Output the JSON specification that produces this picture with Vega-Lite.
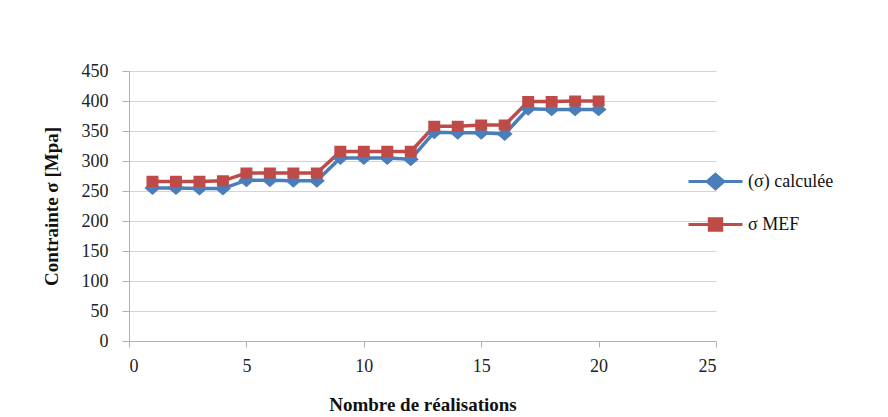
{
  "$schema": "https://vega.github.io/schema/vega-lite/v6.json",
  "width": 587,
  "height": 270,
  "autosize": {"type": "none"},
  "padding": {"left": 129, "top": 71, "right": 172, "bottom": 76},
  "background": "white",
  "config": {"view": {"stroke": null}, "font": "Liberation Serif"},
  "data": {"values": [
    {"x": 1, "series": "(σ) calculée", "value": 255},
    {"x": 2, "series": "(σ) calculée", "value": 255},
    {"x": 3, "series": "(σ) calculée", "value": 254},
    {"x": 4, "series": "(σ) calculée", "value": 254},
    {"x": 5, "series": "(σ) calculée", "value": 268},
    {"x": 6, "series": "(σ) calculée", "value": 268},
    {"x": 7, "series": "(σ) calculée", "value": 267},
    {"x": 8, "series": "(σ) calculée", "value": 267},
    {"x": 9, "series": "(σ) calculée", "value": 305},
    {"x": 10, "series": "(σ) calculée", "value": 305},
    {"x": 11, "series": "(σ) calculée", "value": 305},
    {"x": 12, "series": "(σ) calculée", "value": 303},
    {"x": 13, "series": "(σ) calculée", "value": 348},
    {"x": 14, "series": "(σ) calculée", "value": 347},
    {"x": 15, "series": "(σ) calculée", "value": 347},
    {"x": 16, "series": "(σ) calculée", "value": 345},
    {"x": 17, "series": "(σ) calculée", "value": 387},
    {"x": 18, "series": "(σ) calculée", "value": 386},
    {"x": 19, "series": "(σ) calculée", "value": 386},
    {"x": 20, "series": "(σ) calculée", "value": 386},
    {"x": 1, "series": "σ MEF", "value": 266},
    {"x": 2, "series": "σ MEF", "value": 266},
    {"x": 3, "series": "σ MEF", "value": 266},
    {"x": 4, "series": "σ MEF", "value": 267},
    {"x": 5, "series": "σ MEF", "value": 280},
    {"x": 6, "series": "σ MEF", "value": 280},
    {"x": 7, "series": "σ MEF", "value": 280},
    {"x": 8, "series": "σ MEF", "value": 280},
    {"x": 9, "series": "σ MEF", "value": 316},
    {"x": 10, "series": "σ MEF", "value": 316},
    {"x": 11, "series": "σ MEF", "value": 316},
    {"x": 12, "series": "σ MEF", "value": 316},
    {"x": 13, "series": "σ MEF", "value": 358},
    {"x": 14, "series": "σ MEF", "value": 358},
    {"x": 15, "series": "σ MEF", "value": 360},
    {"x": 16, "series": "σ MEF", "value": 360},
    {"x": 17, "series": "σ MEF", "value": 399},
    {"x": 18, "series": "σ MEF", "value": 399},
    {"x": 19, "series": "σ MEF", "value": 400},
    {"x": 20, "series": "σ MEF", "value": 400}
  ]},
  "encoding": {
    "x": {
      "field": "x", "type": "quantitative",
      "scale": {"domain": [0, 25], "nice": false},
      "axis": {
        "values": [0, 5, 10, 15, 20, 25], "grid": false,
        "domainColor": "#b0b0b0", "tickColor": "#b0b0b0", "tickSize": 6,
        "labelPadding": 10, "labelFontSize": 18, "labelColor": "#222", "labelFont": "Liberation Serif",
        "title": "Nombre de réalisations", "titleFontSize": 19, "titleFontWeight": "bold",
        "titleFont": "Liberation Serif", "titleColor": "#111", "titlePadding": 20
      }
    },
    "y": {
      "field": "value", "type": "quantitative",
      "scale": {"domain": [0, 450], "nice": false},
      "axis": {
        "values": [0, 50, 100, 150, 200, 250, 300, 350, 400, 450], "grid": true,
        "gridColor": "#d4d4d4", "domainColor": "#b0b0b0", "tickColor": "#b0b0b0", "tickSize": 7,
        "labelPadding": 14, "labelFontSize": 18, "labelColor": "#222", "labelFont": "Liberation Serif",
        "title": "Contrainte σ [Mpa]", "titleFontSize": 19, "titleFontWeight": "bold",
        "titleFont": "Liberation Serif", "titleColor": "#111", "titlePadding": 20
      }
    }
  },
  "layer": [
    {
      "mark": {"type": "line", "strokeWidth": 3.5},
      "encoding": {
        "stroke": {"field": "series", "type": "nominal",
          "scale": {"domain": ["(σ) calculée", "σ MEF"], "range": ["#4A7EBB", "#BE4B48"]},
          "legend": {
            "orient": "none", "legendX": 576, "legendY": 100, "title": null,
            "labelFontSize": 18, "labelFont": "Liberation Serif", "labelColor": "#111",
            "labelOffset": 22, "rowPadding": 17, "symbolSize": 324, "symbolStrokeWidth": 3
          }
        }
      }
    },
    {
      "mark": {"type": "point", "filled": true, "opacity": 1, "size": 300},
      "encoding": {
        "color": {"field": "series", "type": "nominal",
          "scale": {"domain": ["(σ) calculée", "σ MEF"], "range": ["#4A7EBB", "#BE4B48"]},
          "legend": {
            "orient": "none", "legendX": 576, "legendY": 100, "title": null,
            "labelFontSize": 18, "labelFont": "Liberation Serif", "labelColor": "#111",
            "labelOffset": 22, "rowPadding": 17, "symbolSize": 324, "symbolStrokeWidth": 3
          }
        },
        "shape": {"field": "series", "type": "nominal",
          "scale": {"domain": ["(σ) calculée", "σ MEF"], "range": ["M-3,0H3M0,-0.8L0.92,0L0,0.8L-0.92,0Z", "M-3,0H3M-0.69,-0.64H0.69V0.64H-0.69Z"]},
          "legend": {
            "orient": "none", "legendX": 576, "legendY": 100, "title": null,
            "labelFontSize": 18, "labelFont": "Liberation Serif", "labelColor": "#111",
            "labelOffset": 22, "rowPadding": 17, "symbolSize": 324, "symbolStrokeWidth": 3
          }
        }
      }
    }
  ]
}
